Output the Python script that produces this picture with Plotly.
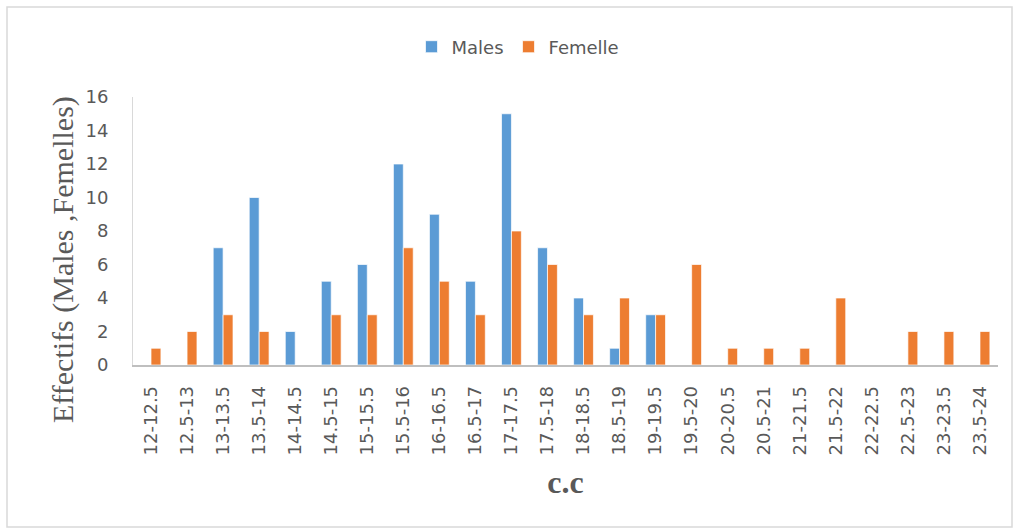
import plotly.graph_objects as go

categories = ["12-12.5", "12.5-13", "13-13.5", "13.5-14", "14-14.5", "14.5-15",
              "15-15.5", "15.5-16", "16-16.5", "16.5-17", "17-17.5", "17.5-18",
              "18-18.5", "18.5-19", "19-19.5", "19.5-20", "20-20.5", "20.5-21",
              "21-21.5", "21.5-22", "22-22.5", "22.5-23", "23-23.5", "23.5-24"]
males = [0, 0, 7, 10, 2, 5, 6, 12, 9, 5, 15, 7, 4, 1, 3, 0, 0, 0, 0, 0, 0, 0, 0, 0]
femelle = [1, 2, 3, 2, 0, 3, 3, 7, 5, 3, 8, 6, 3, 4, 3, 6, 1, 1, 1, 4, 0, 2, 2, 2]
y_ticks = [0, 2, 4, 6, 8, 10, 12, 14, 16]
y_title = "Effectifs (Males ,Femelles)"
x_title = "c.c"

fig = go.Figure()
fig.add_trace(go.Bar(x=categories, y=males, name="Males",
                     marker=dict(color="#5B9BD5", line=dict(color="white", width=0.7))))
fig.add_trace(go.Bar(x=categories, y=femelle, name="Femelle",
                     marker=dict(color="#ED7D31", line=dict(color="white", width=0.7))))

L, R, T, B = 133, 16, 97, 164
W, H = 1014, 529
pw, ph = W - L - R, H - T - B

def px_x(x):
    return (x - L) / pw

def px_y(y):
    return (H - B - y) / ph

fig.update_layout(
    template="none",
    width=W, height=H,
    margin=dict(l=L, r=R, t=T, b=B, autoexpand=False),
    paper_bgcolor="white", plot_bgcolor="white",
    barmode="group", bargap=0.45, bargroupgap=0,
    font=dict(family="DejaVu Sans", color="#595959"),
    showlegend=True,
    legend=dict(orientation="h", x=px_x(518), xanchor="center", y=px_y(47), yanchor="middle",
                font=dict(size=18, color="#595959"), itemwidth=30,
                bgcolor="rgba(0,0,0,0)"),
    xaxis=dict(tickangle=-90, tickfont=dict(family="DejaVu Sans", size=18, color="#595959"),
               showline=True, linecolor="#BFBFBF", linewidth=1.5,
               ticks="", showgrid=False, automargin=False, ticklabelstandoff=12,
               title=dict(text="<b>" + x_title + "</b>",
                          font=dict(family="Liberation Serif", size=32, color="#595959"),
                          standoff=16)),
    yaxis=dict(range=[0, 16], tickvals=y_ticks, tickfont=dict(family="DejaVu Sans", size=18, color="#595959"),
               showline=True, linecolor="#D9D9D9", linewidth=1,
               ticks="", showgrid=False, zeroline=False, automargin=False, ticklabelstandoff=20),
    annotations=[dict(text=y_title, xref="paper", yref="paper", x=px_x(63), y=px_y(260),
                      xanchor="center", yanchor="middle", textangle=-90, showarrow=False,
                      font=dict(family="Liberation Serif", size=30, color="#595959"))],
    shapes=[dict(type="rect", xref="paper", yref="paper",
                 x0=px_x(7), x1=px_x(1012), y0=px_y(527), y1=px_y(7),
                 line=dict(color="#D9D9D9", width=1.5), fillcolor="rgba(0,0,0,0)", layer="below")],
)

fig.write_html("out.html", config={"displayModeBar": False},
               post_script="document.body.style.margin='0';")
